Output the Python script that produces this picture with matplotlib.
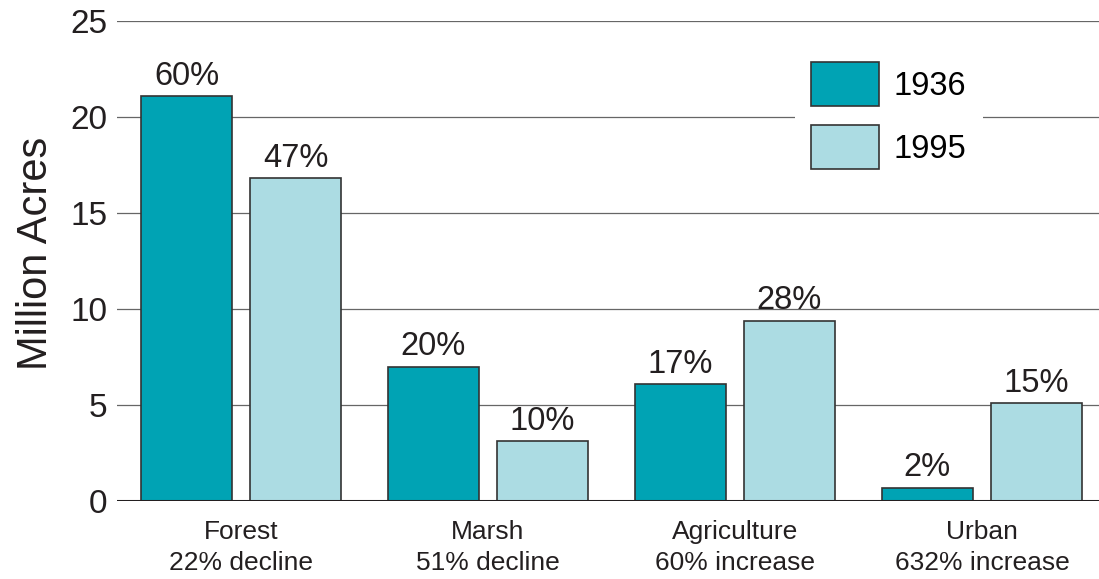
import matplotlib
matplotlib.use("Agg")
from matplotlib import pyplot as plt
import numpy as np

plt.rcParams['font.family'] = ['Liberation Sans', 'DejaVu Sans']

categories = ["Forest\n22% decline", "Marsh\n51% decline",
              "Agriculture\n60% increase", "Urban\n632% increase"]
acres_1936 = [21.1, 7.0, 6.1, 0.7]
acres_1995 = [16.8, 3.1, 9.4, 5.1]
share_1936 = ["60%", "20%", "17%", "2%"]
share_1995 = ["47%", "10%", "28%", "15%"]
yticks = [0, 5, 10, 15, 20, 25]

dark = "#00a3b4"
light = "#acdce3"
edge = "#333333"

fig = plt.figure(figsize=(10.99, 5.79), dpi=100)
ax = fig.add_axes([117 / 1099, 1 - 501 / 579, 1 - 117 / 1099, 480 / 579])

x = np.arange(len(categories))
w = 0.368
off = 0.2207
b1 = ax.bar(x - off, acres_1936, w, color=dark, edgecolor=edge, linewidth=1.2,
            label="1936", zorder=3)
b2 = ax.bar(x + off, acres_1995, w, color=light, edgecolor=edge, linewidth=1.2,
            label="1995", zorder=3)
ax.bar_label(b1, labels=share_1936, padding=3, fontsize=23.5, color="#231f20")
ax.bar_label(b2, labels=share_1995, padding=3, fontsize=23.5, color="#231f20")

ax.set_xlim(-0.502, 3.474)
ax.set_ylim(0, 25)
ax.set_yticks(yticks)
ax.set_xticks(x)
ax.set_xticklabels(categories, fontsize=19, color="#231f20", linespacing=1.32)
ax.tick_params(axis="y", length=0, pad=7, labelsize=24, labelcolor="#231f20")
ax.tick_params(axis="x", length=0, pad=14)
for s in ax.spines.values():
    s.set_visible(False)
ax.grid(axis="y", color="#666666", linewidth=0.9, zorder=0)
ax.axhline(0, color="#231f20", linewidth=2.2, zorder=4)
ax.set_ylabel("Million Acres", fontsize=30, color="#231f20", labelpad=10)
ax.yaxis.label.set_y(0.515)

leg = ax.legend(loc="upper left", bbox_to_anchor=(0.690, 0.948), fontsize=23.5,
                frameon=True, facecolor="white", edgecolor="none", framealpha=1,
                fancybox=False, handlelength=2.1, handleheight=1.7,
                labelspacing=0.57, handletextpad=0.44, borderpad=0.5,
                borderaxespad=0)
leg.set_zorder(5)

fig.savefig("out.png", dpi=100)
